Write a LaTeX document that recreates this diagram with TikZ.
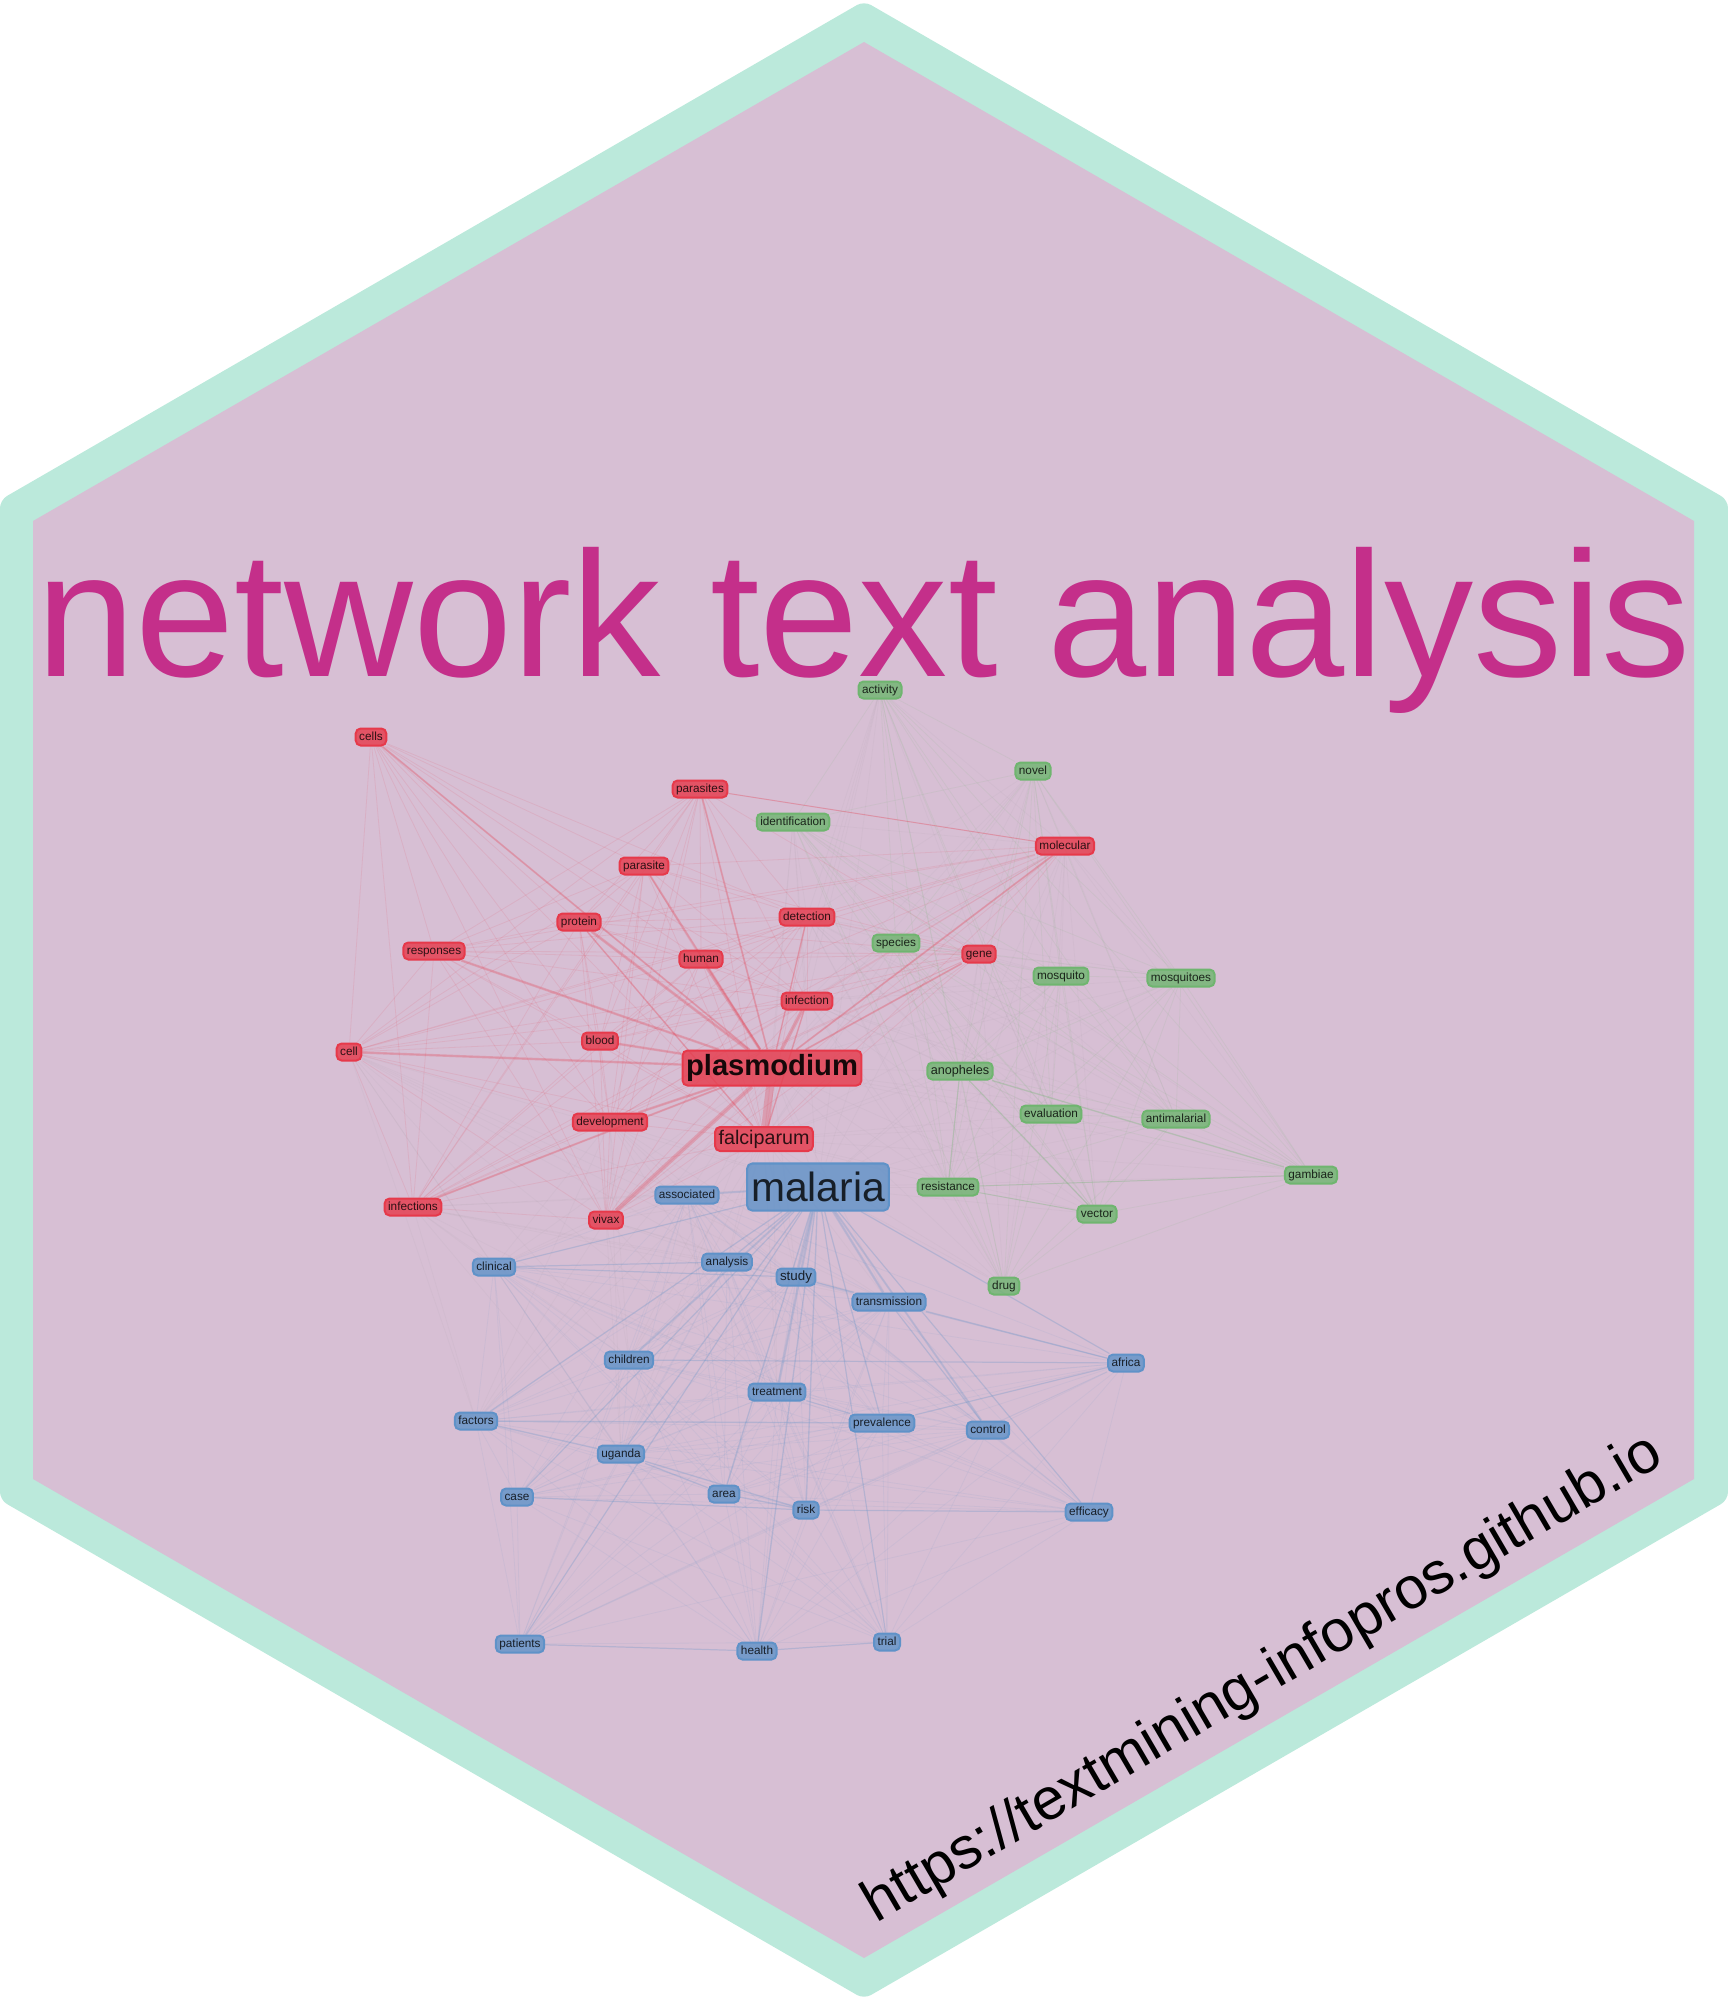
\documentclass[tikz,border=0pt]{standalone}
\usepackage{fontspec}
\setmainfont{Liberation Sans}
\pgfdeclarelayer{plate}
\pgfdeclarelayer{links}
\pgfsetlayers{plate,links,main}
\definecolor{mint}{HTML}{BBE9DB}
\definecolor{lilac}{HTML}{D7BFD4}
\definecolor{titlepink}{HTML}{C42F8A}
\definecolor{wordred}{HTML}{E6394A}
\definecolor{wordblue}{HTML}{5F92C8}
\definecolor{wordgreen}{HTML}{6FB56F}
\tikzset{
wordbox/.style={rectangle, rounded corners=.5mm, inner xsep=.35mm, inner ysep=0pt,
	minimum height=1.7mm, line width=.2mm, fill opacity=.8, text opacity=.8,
	text height=2.45pt, text depth=.4pt, font=\fontsize{3.35pt}{4pt}\selectfont},
redword/.style={wordbox, fill=wordred, draw=wordred},
blueword/.style={wordbox, fill=wordblue, draw=wordblue},
greenword/.style={wordbox, fill=wordgreen, draw=wordgreen},
redlink/.style={draw=wordred, opacity=.11, line width=.08mm},
bluelink/.style={draw=wordblue, opacity=.09, line width=.08mm},
greenlink/.style={draw=wordgreen, opacity=.1, line width=.08mm},
crosslink/.style={draw=gray, opacity=.05, line width=.08mm}
}
\newcommand{\linkall}[2]{%
	\foreach \a [count=\i] in {#2}
		\foreach \b [count=\j] in {#2} {
			\ifnum\i<\j \draw[#1] (\a) -- (\b); \fi
		}
}
\begin{document}
\begin{tikzpicture}[x=.01cm, y=-.01cm]
	\useasboundingbox (0,0) rectangle (1728,2000);
	\begin{pgfonlayer}{plate}
		\fill[mint, rounded corners=.8mm] (864,1) -- (1728,500) -- (1728,1500) -- (864,1999) -- (0,1500) -- (0,500) -- cycle;
		\fill[lilac] (864,42) -- (1694,521) -- (1694,1479) -- (864,1958) -- (33,1479) -- (33,521) -- cycle;
		\node[anchor=base, inner sep=0pt, text=titlepink, font=\fontsize{50.7pt}{56pt}\selectfont] (title) at (864,676) {network text analysis};
		\node[anchor=base, inner sep=0pt, rotate=30.3, font=\fontsize{16.75pt}{20pt}\selectfont] (url) at (1271,1693) {https://textmining-infopros.github.io};
	\end{pgfonlayer}
	% plasmodium group
	\node[redword] (cells) at (371,737) {cells};
	\node[redword] (parasites) at (700,789) {parasites};
	\node[redword] (parasite) at (644,866) {parasite};
	\node[redword] (protein) at (579,922) {protein};
	\node[redword] (responses) at (434,951) {responses};
	\node[redword] (human) at (701,959) {human};
	\node[redword] (detection) at (807,917) {detection};
	\node[redword] (infection) at (807,1001) {infection};
	\node[redword] (blood) at (600,1041) {blood};
	\node[redword] (cell) at (349,1052) {cell};
	\node[redword] (molecular) at (1065,846) {molecular};
	\node[redword] (gene) at (979,954) {gene};
	\node[redword] (development) at (610,1122) {development};
	\node[redword] (infections) at (413,1207) {infections};
	\node[redword] (vivax) at (606,1220) {vivax};
	\node[redword, minimum height=3.5mm, text opacity=.9, text height=6.1pt, text depth=1.7pt, font=\fontsize{8.3pt}{9pt}\bfseries\selectfont] (plasmodium) at (772,1068) {plasmodium};
	\node[redword, minimum height=2.4mm, text height=4.1pt, text depth=1.2pt, font=\fontsize{5.6pt}{6pt}\selectfont] (falciparum) at (764,1139) {falciparum};
	% malaria group
	\node[blueword, minimum height=4.7mm, inner xsep=.4mm, text height=8.4pt, text depth=.2pt, font=\fontsize{11.6pt}{12pt}\selectfont] (malaria) at (818,1187) {malaria};
	\node[blueword] (associated) at (687,1195) {associated};
	\node[blueword] (clinical) at (494,1267) {clinical};
	\node[blueword] (analysis) at (727,1262) {analysis};
	\node[blueword, text height=2.75pt, text depth=.8pt, font=\fontsize{3.8pt}{4pt}\selectfont] (study) at (796,1277) {study};
	\node[blueword] (transmission) at (889,1302) {transmission};
	\node[blueword] (children) at (629,1360) {children};
	\node[blueword] (africa) at (1126,1363) {africa};
	\node[blueword] (treatment) at (777,1392) {treatment};
	\node[blueword] (factors) at (476,1421) {factors};
	\node[blueword] (prevalence) at (882,1423) {prevalence};
	\node[blueword] (control) at (988,1430) {control};
	\node[blueword] (uganda) at (621,1454) {uganda};
	\node[blueword] (case) at (517,1497) {case};
	\node[blueword] (area) at (724,1494) {area};
	\node[blueword] (risk) at (806,1510) {risk};
	\node[blueword] (efficacy) at (1089,1512) {efficacy};
	\node[blueword] (patients) at (520,1644) {patients};
	\node[blueword] (health) at (757,1651) {health};
	\node[blueword] (trial) at (887,1642) {trial};
	% mosquito group
	\node[greenword] (activity) at (880,690) {activity};
	\node[greenword] (novel) at (1033,771) {novel};
	\node[greenword] (identification) at (793,822) {identification};
	\node[greenword] (species) at (896,943) {species};
	\node[greenword] (mosquito) at (1061,976) {mosquito};
	\node[greenword] (mosquitoes) at (1181,978) {mosquitoes};
	\node[greenword, text height=2.6pt, text depth=.7pt, font=\fontsize{3.6pt}{4pt}\selectfont] (anopheles) at (960,1071) {anopheles};
	\node[greenword] (evaluation) at (1051,1114) {evaluation};
	\node[greenword] (antimalarial) at (1176,1119) {antimalarial};
	\node[greenword] (resistance) at (948,1187) {resistance};
	\node[greenword] (vector) at (1097,1214) {vector};
	\node[greenword] (gambiae) at (1311,1175) {gambiae};
	\node[greenword] (drug) at (1004,1286) {drug};
	\begin{pgfonlayer}{links}
		\linkall{redlink}{parasites,parasite,protein,responses,human,detection,infection,blood,cell,molecular,gene,development,infections,vivax,plasmodium,falciparum}
		\foreach \b in {parasite,protein,responses,human,detection,infection,blood,cell,development,infections,vivax,plasmodium,falciparum}
			\draw[redlink] (cells) -- (\b);
		\linkall{bluelink}{malaria,associated,clinical,analysis,study,transmission,children,africa,treatment,factors,prevalence,control,uganda,case,area,risk,efficacy,patients,health,trial}
		\linkall{greenlink}{activity,novel,identification,species,mosquito,mosquitoes,anopheles,evaluation,antimalarial,resistance,vector,gambiae,drug}
		% faint links across the groups
		\foreach \a in {plasmodium,falciparum,malaria,gene,molecular,detection,infection}
			\foreach \b in {activity,novel,identification,species,mosquito,mosquitoes,anopheles,evaluation,antimalarial,resistance,vector,gambiae,drug}
				\draw[crosslink] (\a) -- (\b);
		\foreach \a in {plasmodium,falciparum,infections,vivax,development,cell}
			\foreach \b in {malaria,associated,clinical,analysis,study,children,transmission,treatment,factors,uganda}
				\draw[crosslink] (\a) -- (\b);
		% heavy links
		\foreach \a/\b/\w in {plasmodium/falciparum/.8, plasmodium/vivax/.42, plasmodium/infection/.35, plasmodium/human/.28,
				plasmodium/protein/.28, falciparum/protein/.15, plasmodium/parasite/.2, plasmodium/parasites/.18, plasmodium/responses/.24,
				plasmodium/blood/.24, plasmodium/cell/.24, plasmodium/cells/.18, plasmodium/development/.24, plasmodium/infections/.2,
				plasmodium/gene/.18, plasmodium/molecular/.18, plasmodium/detection/.14, falciparum/infection/.15, parasites/molecular/.1}
			\draw[draw=wordred, opacity=.25, line width=\w mm] (\a) -- (\b);
		\foreach \a/\b/\w in {malaria/study/.3, malaria/treatment/.24, malaria/transmission/.24, malaria/control/.2, malaria/children/.2,
				malaria/associated/.2, malaria/analysis/.14, malaria/factors/.13, malaria/uganda/.13, malaria/prevalence/.13, malaria/risk/.14,
				malaria/health/.14, malaria/area/.14, malaria/case/.12, malaria/efficacy/.12, malaria/africa/.12, malaria/trial/.12,
				malaria/patients/.12, malaria/clinical/.12, study/transmission/.14, clinical/analysis/.12, clinical/study/.12, factors/uganda/.14,
				factors/prevalence/.14, uganda/area/.14, uganda/risk/.14, area/risk/.14, case/risk/.12, transmission/africa/.14, risk/efficacy/.12,
				patients/health/.12, health/trial/.12, children/africa/.12, prevalence/africa/.12, treatment/prevalence/.12, transmission/control/.12}
			\draw[draw=wordblue, opacity=.22, line width=\w mm] (\a) -- (\b);
		\foreach \a/\b/\w in {anopheles/gambiae/.14, anopheles/vector/.12, anopheles/resistance/.12, resistance/gambiae/.1, resistance/vector/.1}
			\draw[draw=wordgreen, opacity=.25, line width=\w mm] (\a) -- (\b);
	\end{pgfonlayer}
\end{tikzpicture}
\end{document}
